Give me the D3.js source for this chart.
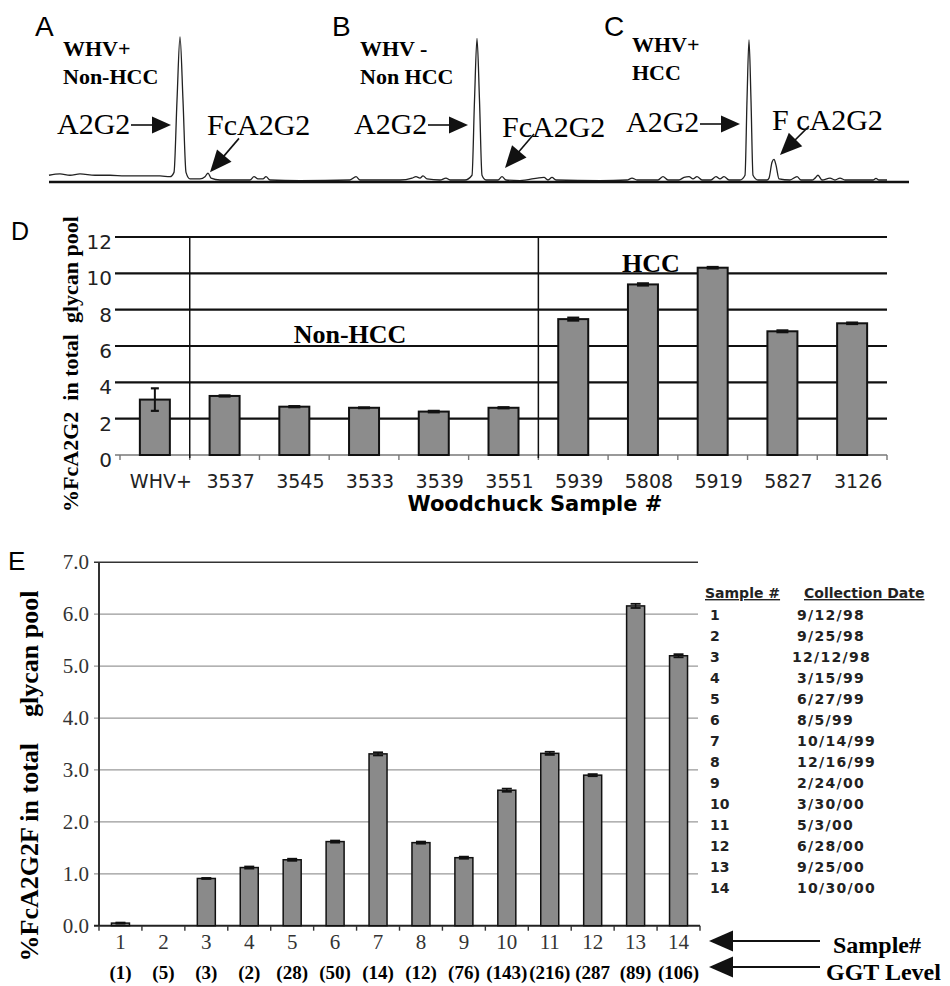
<!DOCTYPE html>
<html>
<head>
<meta charset="utf-8">
<script src="https://cdn.jsdelivr.net/npm/d3@7"></script>
<style>
  body { margin: 0; background: #fff; }
  text { white-space: pre; }
</style>
</head>
<body>
<div id="chart"></div>
<script>
// ---- data: chromatograms A-C (retention time, signal % of A2G2 peak)
const chromTrace = [
  [0,4],[1.1,5],[2.1,4],[3.1,5],[4.6,4],[6.1,4],[7.6,3.5],[9.1,3.5],[11.1,3.5],[12.1,3],
  [12.5,6],[12.8,56],[13.1,100],[13.4,56],[13.7,6],[14.1,1.5],[15.1,1.5],[15.6,3],[15.9,5.5],[16.2,2],
  [17.1,0.7],[20.1,0.7],[20.5,3],[20.9,1.5],[21.4,1.5],[21.7,3],[22.1,0.7],[25.1,0.3],[30.1,0.7],[30.7,3],
  [31.1,0.7],[35.1,0.7],[36.3,2],[36.7,3],[37.1,2],[37.4,3.5],[37.8,1.5],[39.1,0.7],[39.7,2],[40.1,0.7],
  [41.6,0.7],[42.3,4],[42.55,56],[42.8,99],[43.05,56],[43.3,4],[43.7,0.7],[44.9,0.7],[45.3,3],[45.7,0.7],
  [47.1,0.3],[49.5,2.5],[49.9,0.7],[50.3,2.5],[50.7,0.7],[55.1,0.3],[57.8,0.7],[58.3,2],[58.8,0.7],[60.9,0.7],
  [61.4,3],[61.9,0.7],[63.0,0.7],[63.5,2.5],[64.0,3],[64.4,1.5],[64.8,3],[65.3,0.7],[66.2,0.7],[66.7,3],
  [67.1,1.5],[67.5,3],[68.0,0.7],[69.1,0.7],[69.6,4],[69.8,56],[70.0,98],[70.2,56],[70.4,4],[70.9,0.7],
  [71.8,0.7],[72.0,2],[72.3,13],[72.5,15],[72.7,11],[73.0,1.5],[74.1,0.7],[74.8,3],[75.2,0.7],[76.3,0.7],
  [76.6,2],[76.9,4],[77.3,0.7],[78.1,2],[78.6,0.7],[79.1,2],[79.6,0.7],[80.1,0.7],[82.4,0.7],[82.7,1.8],
  [83.0,0.7],[83.8,0.7]
]
const chromPanels = ['A', 'B', 'C']
const chromGroups = [['WHV+', 'Non-HCC'], ['WHV -', 'Non HCC'], ['WHV+', 'HCC']]
const mainPeakTime = [13.1, 42.8, 70.0]
const fucPeaks = [[16.1, 6], [45.6, 9], [73.1, 18]]
const fucLabels = ['FcA2G2', 'FcA2G2', 'F cA2G2']

// ---- data: panel D
const dSamples = ['WHV+', '3537', '3545', '3533', '3539', '3551', '5939', '5808', '5919', '5827', '3126']
const dValues = [3.05, 3.25, 2.66, 2.6, 2.39, 2.6, 7.48, 9.39, 10.31, 6.81, 7.25]
const dErrors = [0.62, 0.03, 0.03, 0.02, 0.04, 0.03, 0.08, 0.06, 0.04, 0.05, 0.04]
const dTicks = [0, 2, 4, 6, 8, 10, 12]

// ---- data: panel E
const eSamples = ['1', '2', '3', '4', '5', '6', '7', '8', '9', '10', '11', '12', '13', '14']
const eValues = [0.05, 0, 0.91, 1.12, 1.27, 1.62, 3.31, 1.60, 1.31, 2.61, 3.32, 2.90, 6.16, 5.20]
const eErrors = [0.01, 0, 0.01, 0.02, 0.02, 0.02, 0.03, 0.02, 0.02, 0.03, 0.03, 0.02, 0.04, 0.03]
const ggtLevels = ['(1)', '(5)', '(3)', '(2)', '(28)', '(50)', '(14)', '(12)', '(76)', '(143)', '(216)', '(287', '(89)', '(106)']
const collectionDates = ['9/12/98', '9/25/98', '12/12/98', '3/15/99', '6/27/99', '8/5/99', '10/14/99',
  '12/16/99', '2/24/00', '3/30/00', '5/3/00', '6/28/00', '9/25/00', '10/30/00']
const eTicks = [0, 1, 2, 3, 4, 5, 6, 7]

const serif = '"Liberation Serif", "Times New Roman", serif'
const verdana = '"DejaVu Sans", Verdana, sans-serif'
const arial = '"Liberation Sans", Arial, sans-serif'
const ink = '#111'

const svg = d3.select('#chart').append('svg')
  .attr('width', 950).attr('height', 986)
  .style('background', '#fff')

function arrow(g, x1, y1, x2, y2, len, wid, sw) {
  const a = Math.atan2(y2 - y1, x2 - x1)
  const bx = x2 - len * Math.cos(a), by = y2 - len * Math.sin(a)
  const nx = -Math.sin(a) * wid / 2, ny = Math.cos(a) * wid / 2
  g.append('line').attr('x1', x1).attr('y1', y1).attr('x2', bx + Math.cos(a)).attr('y2', by + Math.sin(a))
    .attr('stroke', ink).attr('stroke-width', sw || 1.6)
  g.append('path').attr('d', `M${x2},${y2}L${bx + nx},${by + ny}L${bx - nx},${by - ny}Z`).attr('fill', ink)
}

// ================= A-C chromatograms
const xC = d3.scaleLinear().domain([0, 86]).range([49, 909])
const yC = d3.scaleLinear().domain([0, 100]).range([181, 37])
const gC = svg.append('g')

gC.append('path').datum(chromTrace)
  .attr('fill', 'none').attr('stroke', '#222').attr('stroke-width', 1.3)
  .attr('d', d3.line().x(d => xC(d[0])).y(d => yC(d[1])).curve(d3.curveMonotoneX))
gC.append('line').attr('x1', xC(0)).attr('x2', xC(86)).attr('y1', yC(0) + 1).attr('y2', yC(0) + 1)
  .attr('stroke', ink).attr('stroke-width', 2.6)

chromPanels.forEach((p, i) => {
  const px = xC(mainPeakTime[i])
  gC.append('text').attr('x', px - 145).attr('y', 36)
    .attr('font-family', arial).attr('font-size', 28).text(p)
  chromGroups[i].forEach((t, j) => {
    gC.append('text').attr('x', px - 117).attr('y', (i === 2 ? 52 : 56) + j * 28)
      .attr('font-family', serif).attr('font-weight', 'bold').attr('font-size', 22).text(t)
  })
  // A2G2 label + arrow to the main peak
  gC.append('text').attr('x', px - 123).attr('y', i === 2 ? 132 : 134)
    .attr('font-family', serif).attr('font-size', 30).text('A2G2')
  arrow(gC, px - 49, i === 2 ? 124 : 125, px - 9, i === 2 ? 124 : 125, 19, 17)
  // fucosylated peak label + arrow
  const tx = xC(fucPeaks[i][0]), ty = yC(fucPeaks[i][1])
  gC.append('text').attr('x', tx - (i === 2 ? 8 : 3)).attr('y', i === 2 ? 130 : (i === 1 ? 137 : 135))
    .attr('font-family', serif).attr('font-size', 30).text(fucLabels[i])
  arrow(gC, tx + 29, ty - 34 - (i === 2 ? -5 : 0), tx, ty, 22, 19)
})

// ================= D
const xD = d3.scaleBand().domain(dSamples).range([120, 887]).padding(0)
const yD = d3.scaleLinear().domain([0, 12]).range([455, 237])
const gD = svg.append('g')
const bwD = xD.bandwidth()
const barWD = 30

gD.append('text').attr('x', 11).attr('y', 240).attr('font-family', arial).attr('font-size', 25).text('D')

gD.selectAll('line.grid').data(dTicks.filter(t => t > 0)).join('line')
  .attr('class', 'grid')
  .attr('x1', 115).attr('x2', 887).attr('y1', d => yD(d)).attr('y2', d => yD(d))
  .attr('stroke', ink).attr('stroke-width', 2.2)
gD.append('line').attr('x1', 115).attr('x2', 887).attr('y1', yD(0)).attr('y2', yD(0))
  .attr('stroke', '#777').attr('stroke-width', 1.6)
gD.selectAll('line.tk').data(d3.range(dSamples.length + 1)).join('line')
  .attr('class', 'tk')
  .attr('x1', i => 120 + i * bwD).attr('x2', i => 120 + i * bwD)
  .attr('y1', yD(0)).attr('y2', yD(0) + 5)
  .attr('stroke', '#777').attr('stroke-width', 1.4)

// group separators
;['3537', '5939'].forEach(s => {
  gD.append('line').attr('x1', xD(s)).attr('x2', xD(s)).attr('y1', yD(12)).attr('y2', yD(0) + 3)
    .attr('stroke', ink).attr('stroke-width', 1.5)
})

gD.selectAll('text.yt').data(dTicks).join('text')
  .attr('class', 'yt')
  .attr('x', 112).attr('y', d => yD(d) + 12)
  .attr('text-anchor', 'end').attr('font-family', verdana).attr('font-size', 20)
  .attr('fill', '#222').text(d => d)

gD.selectAll('rect.bar').data(dSamples).join('rect')
  .attr('class', 'bar')
  .attr('x', d => xD(d) + (bwD - barWD) / 2).attr('width', barWD)
  .attr('y', (d, i) => yD(dValues[i])).attr('height', (d, i) => yD(0) - yD(dValues[i]))
  .attr('fill', '#8c8c8c').attr('stroke', ink).attr('stroke-width', 2)

dSamples.forEach((s, i) => {
  const cx = xD(s) + bwD / 2
  const hi = yD(dValues[i] + dErrors[i]), lo = yD(dValues[i] - dErrors[i])
  const cw = dErrors[i] > 0.3 ? 8 : 12
  gD.append('line').attr('x1', cx).attr('x2', cx).attr('y1', hi).attr('y2', lo).attr('stroke', ink).attr('stroke-width', 2)
  ;[hi, lo].forEach(y => gD.append('line').attr('x1', cx - cw / 2).attr('x2', cx + cw / 2)
    .attr('y1', y).attr('y2', y).attr('stroke', ink).attr('stroke-width', 2.2))
})

gD.selectAll('text.xt').data(dSamples).join('text')
  .attr('class', 'xt')
  .attr('x', d => xD(d) + bwD / 2 + 6).attr('y', 488)
  .attr('text-anchor', 'middle').attr('font-family', verdana).attr('font-size', 19)
  .attr('fill', '#222').text(d => d)

gD.append('text').attr('x', xD('3533') + bwD / 2 - 14).attr('y', yD(6.16))
  .attr('text-anchor', 'middle').attr('font-family', serif).attr('font-weight', 'bold').attr('font-size', 26)
  .text('Non-HCC')
gD.append('text').attr('x', xD('5808') + bwD / 2 + 8).attr('y', yD(10.07))
  .attr('text-anchor', 'middle').attr('font-family', serif).attr('font-weight', 'bold').attr('font-size', 26)
  .text('HCC')

gD.append('text').attr('x', 535).attr('y', 511)
  .attr('text-anchor', 'middle').attr('font-family', verdana).attr('font-weight', 'bold').attr('font-size', 21)
  .text('Woodchuck Sample #')
gD.append('text').attr('transform', 'translate(78,364) rotate(-90)')
  .attr('text-anchor', 'middle').attr('font-family', serif).attr('font-weight', 'bold').attr('font-size', 22)
  .text('%FcA2G2  in total  glycan pool')

// ================= E
const xE = d3.scaleBand().domain(eSamples).range([99, 700]).padding(0)
const yE = d3.scaleLinear().domain([0, 7]).range([925.7, 562.3])
const gE = svg.append('g')
const bwE = xE.bandwidth()
const barWE = 18

gE.append('text').attr('x', 8).attr('y', 570).attr('font-family', arial).attr('font-size', 26).text('E')

gE.selectAll('line.grid').data(eTicks.filter(t => t > 0)).join('line')
  .attr('class', 'grid')
  .attr('x1', 94).attr('x2', 698).attr('y1', d => yE(d)).attr('y2', d => yE(d))
  .attr('stroke', d => d === 7 ? '#333' : '#999').attr('stroke-width', d => d === 7 ? 1.6 : 1.2)
gE.append('line').attr('x1', 99).attr('x2', 99).attr('y1', yE(7)).attr('y2', yE(0))
  .attr('stroke', '#333').attr('stroke-width', 2)
gE.append('line').attr('x1', 94).attr('x2', 700).attr('y1', yE(0)).attr('y2', yE(0))
  .attr('stroke', '#222').attr('stroke-width', 2)
gE.selectAll('line.tk').data(d3.range(eSamples.length + 1)).join('line')
  .attr('class', 'tk')
  .attr('x1', i => 99 + i * bwE).attr('x2', i => 99 + i * bwE)
  .attr('y1', yE(0)).attr('y2', yE(0) + 5)
  .attr('stroke', '#333').attr('stroke-width', 1.4)

gE.selectAll('text.yt').data(eTicks).join('text')
  .attr('class', 'yt')
  .attr('x', 89).attr('y', d => yE(d) + 7)
  .attr('text-anchor', 'end').attr('font-family', serif).attr('font-size', 21)
  .attr('fill', '#333').text(d => d.toFixed(1))

gE.selectAll('rect.bar').data(eSamples.filter((d, i) => eValues[i] > 0)).join('rect')
  .attr('class', 'bar')
  .attr('x', d => xE(d) + (bwE - barWE) / 2).attr('width', barWE)
  .attr('y', d => yE(eValues[eSamples.indexOf(d)]))
  .attr('height', d => yE(0) - yE(eValues[eSamples.indexOf(d)]))
  .attr('fill', '#8a8a8a').attr('stroke', ink).attr('stroke-width', 1.5)

eSamples.forEach((s, i) => {
  if (!eErrors[i]) return
  const cx = xE(s) + bwE / 2
  const hi = yE(eValues[i] + eErrors[i]), lo = yE(eValues[i] - eErrors[i])
  gE.append('line').attr('x1', cx).attr('x2', cx).attr('y1', hi).attr('y2', lo).attr('stroke', ink).attr('stroke-width', 1.5)
  ;[hi, lo].forEach(y => gE.append('line').attr('x1', cx - 5).attr('x2', cx + 5)
    .attr('y1', y).attr('y2', y).attr('stroke', ink).attr('stroke-width', 1.8))
})

gE.selectAll('text.xt').data(eSamples).join('text')
  .attr('class', 'xt')
  .attr('x', d => xE(d) + bwE / 2).attr('y', 949)
  .attr('text-anchor', 'middle').attr('font-family', serif).attr('font-size', 21)
  .attr('fill', '#333').text(d => d)
gE.selectAll('text.ggt').data(ggtLevels).join('text')
  .attr('class', 'ggt')
  .attr('x', (d, i) => xE(eSamples[i]) + bwE / 2).attr('y', 979)
  .attr('text-anchor', 'middle').attr('font-family', serif).attr('font-weight', 'bold').attr('font-size', 19)
  .text(d => d)

gE.append('text').attr('transform', 'translate(38,776) rotate(-90)')
  .attr('text-anchor', 'middle').attr('font-family', serif).attr('font-weight', 'bold').attr('font-size', 26)
  .text('%FcA2G2F in total    glycan pool')

// sample table
const tbl = gE.append('g').attr('font-family', verdana).attr('font-weight', 'bold').attr('font-size', 14).attr('fill', '#222')
tbl.append('text').attr('x', 705).attr('y', 598).attr('text-decoration', 'underline').text('Sample #')
tbl.append('text').attr('x', 804).attr('y', 598).attr('text-decoration', 'underline').text('Collection Date')
tbl.selectAll('text.num').data(eSamples).join('text')
  .attr('class', 'num').attr('x', 710).attr('y', (d, i) => 620 + i * 21).text(d => d)
tbl.selectAll('text.date').data(collectionDates).join('text')
  .attr('class', 'date').attr('x', d => d.length > 7 && d.startsWith('12/12') ? 792 : 797)
  .attr('y', (d, i) => 620 + i * 21).attr('letter-spacing', 1.3).text(d => d)

// row pointers
arrow(gE, 820, 941, 709, 941, 24, 21, 2.2)
arrow(gE, 820, 967, 709, 967, 24, 21, 2.2)
gE.append('text').attr('x', 833).attr('y', 953).attr('font-family', serif).attr('font-weight', 'bold')
  .attr('font-size', 24).text('Sample#')
gE.append('text').attr('x', 826).attr('y', 980).attr('font-family', serif).attr('font-weight', 'bold')
  .attr('font-size', 24).text('GGT Level')
</script>
</body>
</html>
